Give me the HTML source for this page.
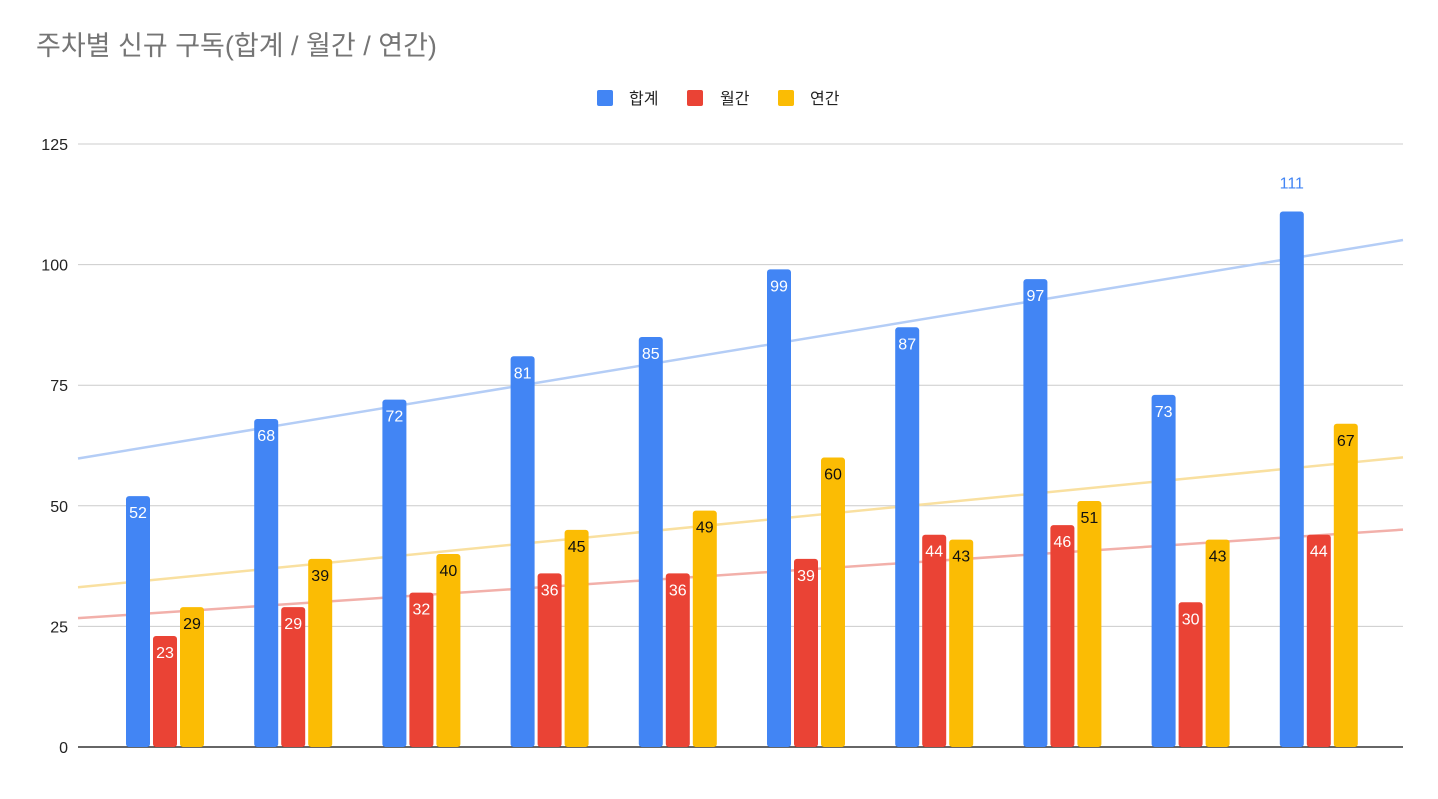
<!DOCTYPE html>
<html><head><meta charset="utf-8">
<style>
body{margin:0;background:#fff;width:1438px;height:794px;overflow:hidden;font-family:"Liberation Sans","Noto Sans CJK KR",sans-serif;}
</style></head>
<body>
<svg id="chart" width="1438" height="794" xmlns="http://www.w3.org/2000/svg" font-family="Liberation Sans, Noto Sans CJK KR, sans-serif">
<text x="36" y="55" font-size="27" fill="#757575">주차별 신규 구독(합계 / 월간 / 연간)</text>
<g>
<g><rect x="597" y="90" width="16" height="16" rx="2" fill="#4285f4"/><text x="629" y="104" font-size="16" fill="#222">합계</text></g>
<g><rect x="687" y="90" width="16" height="16" rx="2" fill="#ea4335"/><text x="720" y="104" font-size="16" fill="#222">월간</text></g>
<g><rect x="778" y="90" width="16" height="16" rx="2" fill="#fbbc04"/><text x="810" y="104" font-size="16" fill="#222">연간</text></g>
</g>
<g id="grid"></g>
<g id="trend"></g>
<g id="bars"></g>
</svg>
<script>
const categories = ['W1','W2','W3','W4','W5','W6','W7','W8','W9','W10'];
const totalValues = [52,68,72,81,85,99,87,97,73,111];
const monthlyValues = [23,29,32,36,36,39,44,46,30,44];
const yearlyValues = [29,39,40,45,49,60,43,51,43,67];
const yTicks = [0,25,50,75,100,125];

const NS='http://www.w3.org/2000/svg';
const plotL=78, plotR=1403, baseY=747, topY=144, yMax=125;
const y=v=>baseY-(v/yMax)*(baseY-topY);
const firstC=165, step=128.2;
const xc=i=>firstC+i*step;
const xIdx=px=>(px-firstC)/step;
function mk(tag,attrs,parent){const e=document.createElementNS(NS,tag);for(const k in attrs)e.setAttribute(k,attrs[k]);parent.appendChild(e);return e;}
const grid=document.getElementById('grid'), trend=document.getElementById('trend'), bars=document.getElementById('bars');
yTicks.forEach(t=>{
  const l=mk('line',{x1:plotL,x2:plotR,y1:y(t),y2:y(t),stroke:t===0?'#333':'#ccc','stroke-width':t===0?1.5:1},grid);
  
  
  const tx=mk('text',{x:68,y:y(t)+6,'text-anchor':'end','font-size':16,fill:'#222'},grid);
  tx.textContent=t;
  
  
});
const series=[
  {vals:totalValues,color:'#4285f4',trend:'#b4cdf6',off:-27,lab:'#fff',name:'total'},
  {vals:monthlyValues,color:'#ea4335',trend:'#f2b0aa',off:0,lab:'#fff',name:'monthly'},
  {vals:yearlyValues,color:'#fbbc04',trend:'#f9e0a0',off:27,lab:'#111',name:'yearly'}
];
series.forEach(s=>{
  const n=s.vals.length, mx=(n-1)/2, my=s.vals.reduce((a,b)=>a+b,0)/n;
  let sxy=0,sxx=0;s.vals.forEach((v,i)=>{sxy+=(i-mx)*(v-my);sxx+=(i-mx)*(i-mx);});
  const sl=sxy/sxx, ic=my-sl*mx;
  const ln=mk('line',{x1:plotL,x2:plotR,y1:y(ic+sl*xIdx(plotL)),y2:y(ic+sl*xIdx(plotR)),stroke:s.trend,'stroke-width':2.5},trend);
  
  
});
categories.forEach((c,i)=>{
  series.forEach(s=>{
    const v=s.vals[i], cx=xc(i)+s.off, w=24;
    const r=mk('rect',{x:cx-w/2,y:y(v),width:w,height:baseY-y(v),rx:3,fill:s.color},bars);
    
    
    const above=v>=100;
    const t=mk('text',{x:cx,y:above?y(v)-23:y(v)+22,'text-anchor':'middle','font-size':16,fill:above?s.color:s.lab},bars);
    t.textContent=v;
    
    
  });
});
</script>
</body></html>
